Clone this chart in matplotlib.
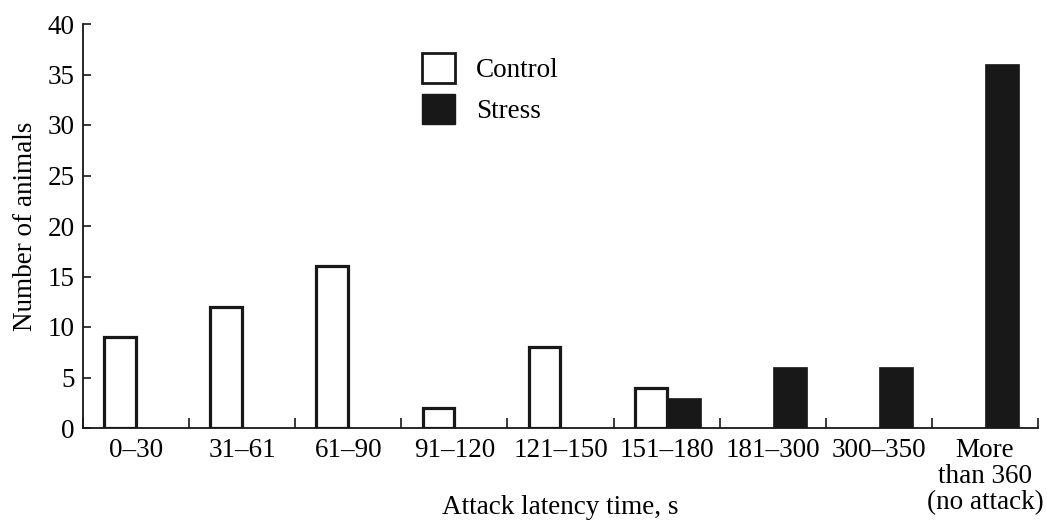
import matplotlib
matplotlib.use("Agg")
import matplotlib.pyplot as plt
from matplotlib.patches import Patch
import numpy as np

categories = ["0–30", "31–61", "61–90", "91–120", "121–150", "151–180",
              "181–300", "300–350", "More\nthan 360\n(no attack)"]
control = [9, 12, 16, 2, 8, 4, 0, 0, 0]
stress = [0, 0, 0, 0, 0, 3, 6, 6, 36]
yticks = [0, 5, 10, 15, 20, 25, 30, 35, 40]

plt.rcParams['font.family'] = ['Liberation Serif', 'DejaVu Serif']
fs = 19.5
dark = '#181818'

fig = plt.figure(figsize=(10.47, 5.22), dpi=100)
ax = fig.add_axes([83/1047, 1-428/522, (1038-83)/1047, (428-24)/522])

x = np.arange(len(categories))
w = 0.30
c = np.array(control, dtype=float)
s = np.array(stress, dtype=float)
mc = c > 0
ms = s > 0
ax.bar(x[mc] - w, c[mc], width=w, align='edge', color='white',
       edgecolor=dark, linewidth=2.3, zorder=3)
ax.bar(x[ms], s[ms], width=w + 0.02, align='edge', color=dark,
       edgecolor=dark, linewidth=0.5, zorder=3)

ax.set_xlim(-0.5, len(categories) - 0.5)
ax.set_ylim(0, 40)
ax.set_yticks(yticks)
ax.set_yticklabels([str(t) for t in yticks], fontsize=fs)
ax.set_xticks(x)
ax.set_xticklabels(categories, fontsize=fs, linespacing=1.05, va='top')
ax.set_xticks(np.arange(-0.5, len(categories), 1.0), minor=True)
ax.tick_params(axis='x', which='major', length=0, pad=7)
ax.tick_params(axis='x', which='minor', direction='in', length=7, width=1.2, color=dark)
ax.tick_params(axis='y', direction='in', length=6, width=1.2, color=dark, pad=6)

for sp in ['top', 'right']:
    ax.spines[sp].set_visible(False)
for sp in ['left', 'bottom']:
    ax.spines[sp].set_linewidth(1.3)
    ax.spines[sp].set_color(dark)

ax.set_ylabel("Number of animals", fontsize=fs, labelpad=7)
fig.text((83 + 1038) / 2 / 1047, 1 - 507 / 522, "Attack latency time, s",
         fontsize=fs, ha='center', va='center')

handles = [Patch(facecolor='white', edgecolor=dark, linewidth=2.0),
           Patch(facecolor=dark, edgecolor=dark)]
leg = ax.legend(handles, ["Control", "Stress"], loc='upper left',
                bbox_to_anchor=(422/1047, 1 - 53/522), bbox_transform=fig.transFigure,
                frameon=False, fontsize=fs, handlelength=1.2, handleheight=1.32,
                labelspacing=0.4, handletextpad=0.8, borderpad=0, borderaxespad=0)

fig.savefig("out.png", dpi=100)
